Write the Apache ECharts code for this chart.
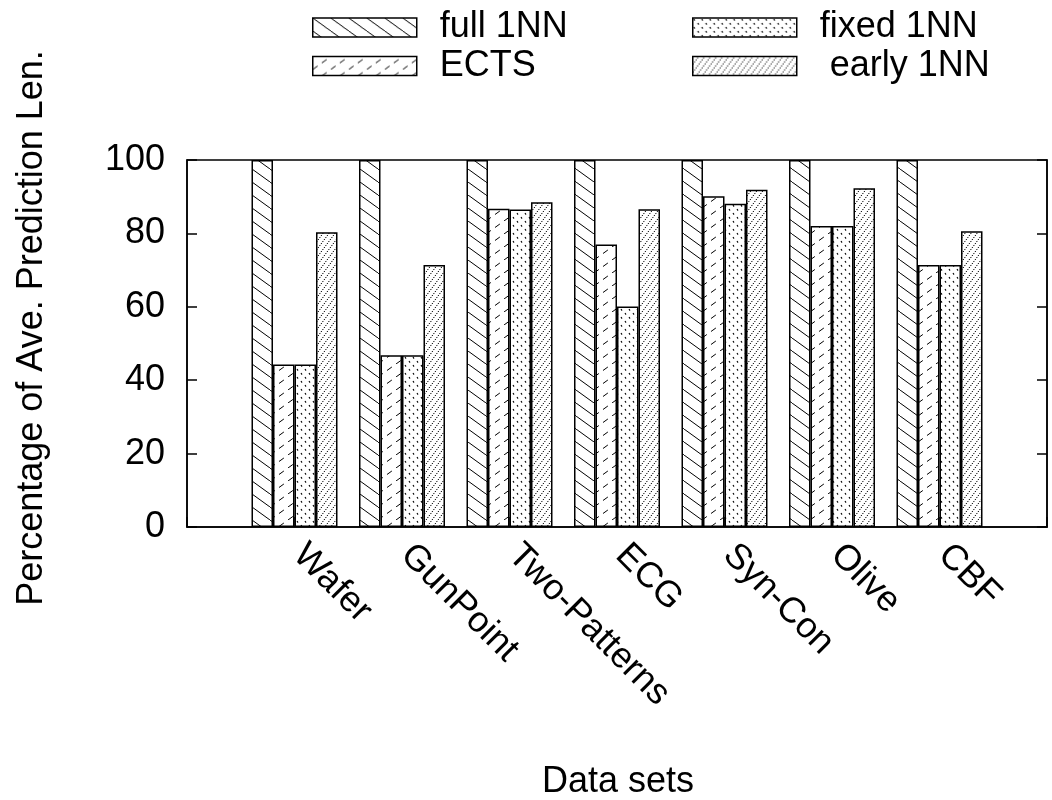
<!DOCTYPE html>
<html>
<head>
<meta charset="utf-8">
<title>Average prediction length</title>
<script src="https://cdn.jsdelivr.net/npm/echarts@6/dist/echarts.min.js"></script>
<style>
  html, body { margin: 0; padding: 0; background: #fff; }
  #chart { width: 1052px; height: 800px; }
</style>
</head>
<body>
<div id="chart"></div>
<script>
// Data sets on the x axis (padded with empty slots so the axis runs one step past each end)
const datasets = ['Wafer', 'GunPoint', 'Two-Patterns', 'ECG', 'Syn-Con', 'Olive', 'CBF'];

// Percentage of average prediction length per method
const full1NN  = [100, 100, 100, 100, 100, 100, 100];
const ects     = [44.3, 46.8, 86.7, 77.0, 90.1, 82.0, 71.4];
const fixed1NN = [44.3, 46.8, 86.5, 60.1, 88.1, 82.0, 71.4];
const early1NN = [80.3, 71.4, 88.5, 86.6, 91.9, 92.3, 80.6];

const yTicks = [0, 20, 40, 60, 80, 100];

const FONT = '"Liberation Sans", Arial, Helvetica, sans-serif';

// Hatch fills drawn onto small tiles
function tile(w, h, draw) {
  const c = document.createElement('canvas');
  c.width = w; c.height = h;
  const ctx = c.getContext('2d');
  ctx.fillStyle = '#fff';
  ctx.fillRect(0, 0, w, h);
  ctx.strokeStyle = '#000';
  ctx.lineWidth = 1;
  draw(ctx, w, h);
  return { image: c, repeat: 'repeat' };
}

const patBackslash = tile(18, 13, (ctx, w, h) => {
  for (let k = -1; k <= 1; k++) {
    ctx.beginPath(); ctx.moveTo(k * w, 0); ctx.lineTo(k * w + w, h); ctx.stroke();
  }
});
const patSlashDashed = tile(18, 13, (ctx, w, h) => {
  ctx.setLineDash([6, 5.1]);
  for (let k = -1; k <= 1; k++) {
    ctx.beginPath(); ctx.moveTo(k * w, h); ctx.lineTo(k * w + w, 0); ctx.stroke();
  }
});
const patSparseDots = tile(8, 8, (ctx) => {
  ctx.lineWidth = 1.1;
  ctx.beginPath(); ctx.moveTo(1, 1); ctx.lineTo(2, 2.6); ctx.stroke();
  ctx.beginPath(); ctx.moveTo(5, 5); ctx.lineTo(6, 6.6); ctx.stroke();
});
const patDenseDots = tile(6, 8, (ctx, w, h) => {
  ctx.setLineDash([1.3, 1.2]);
  for (let k = -1; k <= 1; k++) {
    ctx.beginPath(); ctx.moveTo(k * w, h); ctx.lineTo(k * w + w, 0); ctx.stroke();
  }
});

const axisCats = [''].concat(datasets, ['']);
const pad = arr => [null].concat(arr, [null]);

function barSeries(name, values, pattern) {
  return {
    name: name,
    type: 'bar',
    data: pad(values),
    barWidth: '20%',
    barGap: '0%',
    itemStyle: { color: pattern, borderColor: '#000', borderWidth: 1.5 },
    emphasis: { disabled: true }
  };
}

const legendCommon = {
  orient: 'vertical',
  padding: 0,
  itemWidth: 104,
  itemHeight: 19,
  itemGap: 2.5,
  icon: 'rect',
  selectedMode: false,
  itemStyle: { borderColor: '#000', borderWidth: 1.5 },
  textStyle: { fontFamily: FONT, fontSize: 36, color: '#000', padding: [0, 0, 0, 18] }
};

const chart = echarts.init(document.getElementById('chart'), null, { renderer: 'canvas' });
chart.setOption({
  animation: false,
  backgroundColor: '#fff',
  grid: {
    left: 187, right: 5, top: 160, height: 367,
    show: true, borderColor: '#000', borderWidth: 1.5, backgroundColor: 'transparent'
  },
  legend: [
    Object.assign({}, legendCommon, { left: 312, top: 9.5, data: ['full 1NN', 'ECTS'] }),
    Object.assign({}, legendCommon, {
      left: 692, top: 9.5, data: ['fixed 1NN', 'early 1NN'],
      formatter: n => (n === 'early 1NN' ? ' ' + n : n)
    })
  ],
  xAxis: {
    type: 'category',
    data: axisCats,
    boundaryGap: false,
    axisLine: { lineStyle: { color: '#000', width: 1.5 } },
    axisTick: { inside: true, length: 10, interval: 0, lineStyle: { color: '#000', width: 1.5 } },
    axisLabel: {
      interval: 0, rotate: -45, align: 'left', verticalAlign: 'top', margin: -7,
      padding: [0, 0, 0, 24],
      fontFamily: FONT, fontSize: 36, color: '#000'
    },
    splitLine: { show: false }
  },
  yAxis: [
    {
      type: 'value', min: 0, max: 100, interval: 20,
      axisLine: { show: true, lineStyle: { color: '#000', width: 1.5 } },
      axisTick: { show: true, inside: true, length: 10, lineStyle: { color: '#000', width: 1.5 } },
      axisLabel: {
        margin: 22, fontFamily: FONT, fontSize: 36, color: '#000',
        formatter: v => (yTicks.indexOf(v) >= 0 ? String(v) : '')
      },
      splitLine: { show: false }
    },
    {
      type: 'value', min: 0, max: 100, interval: 20, position: 'right',
      axisLine: { show: true, lineStyle: { color: '#000', width: 1.5 } },
      axisTick: { show: true, inside: true, length: 10, lineStyle: { color: '#000', width: 1.5 } },
      axisLabel: { show: false },
      splitLine: { show: false }
    }
  ],
  graphic: [
    {
      type: 'text', x: 32, y: 328, rotation: Math.PI / 2,
      style: {
        text: 'Percentage of Ave. Prediction Len.', fontFamily: FONT, fontSize: 36,
        fill: '#000', align: 'center', verticalAlign: 'middle'
      }
    },
    {
      type: 'text', x: 618, y: 782,
      style: {
        text: 'Data sets', fontFamily: FONT, fontSize: 36,
        fill: '#000', align: 'center', verticalAlign: 'middle'
      }
    }
  ],
  series: [
    barSeries('full 1NN', full1NN, patBackslash),
    barSeries('ECTS', ects, patSlashDashed),
    barSeries('fixed 1NN', fixed1NN, patSparseDots),
    barSeries('early 1NN', early1NN, patDenseDots)
  ]
});
</script>
</body>
</html>
